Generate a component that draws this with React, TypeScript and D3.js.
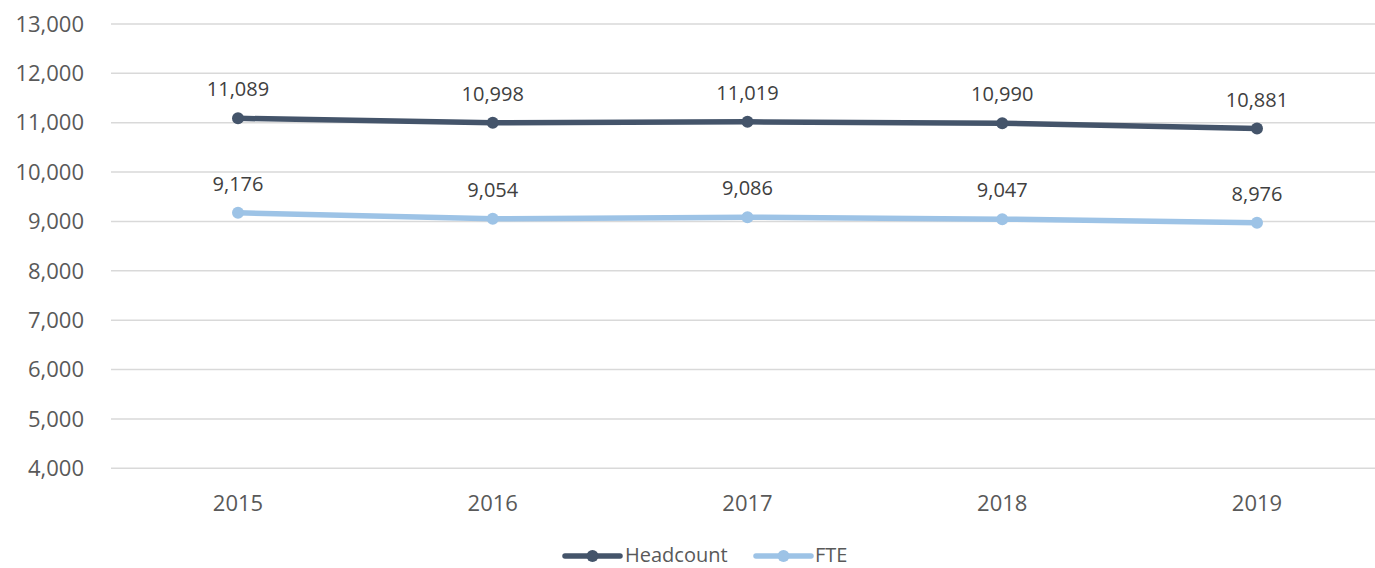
import React, { useEffect, useRef } from 'react';
import * as d3 from 'd3';

const years = ['2015', '2016', '2017', '2018', '2019'];
const headcount = [11089, 10998, 11019, 10990, 10881];
const fte = [9176, 9054, 9086, 9047, 8976];
const yTicks = [4000, 5000, 6000, 7000, 8000, 9000, 10000, 11000, 12000, 13000];

const series = [
  { name: 'Headcount', values: headcount, color: '#44546A' },
  { name: 'FTE', values: fte, color: '#9DC3E6' },
];

const App: React.FC = () => {
  const chartRef = useRef<SVGSVGElement>(null);

  useEffect(() => {
    if (!chartRef.current) return;
    const width = 1375;
    const height = 568;
    const font = '"Open Sans", sans-serif';

    const svg = d3.select(chartRef.current);
    svg.selectAll('*').remove();

    const xScale = d3.scalePoint<string>()
      .domain(years)
      .range([238, 1257]);

    const yScale = d3.scaleLinear()
      .domain([4000, 13000])
      .range([468.3, 24]);

    const fmt = d3.format(',');

    // Grid lines
    svg.selectAll('.grid-line')
      .data(yTicks)
      .enter()
      .append('line')
      .attr('x1', 111)
      .attr('x2', width)
      .attr('y1', d => yScale(d))
      .attr('y2', d => yScale(d))
      .style('stroke', '#d9d9d9')
      .style('stroke-width', 1.5);

    // Y tick labels
    svg.selectAll('.y-label')
      .data(yTicks)
      .enter()
      .append('text')
      .attr('x', 84)
      .attr('y', d => yScale(d))
      .attr('dy', '0.35em')
      .attr('text-anchor', 'end')
      .style('font-family', font)
      .style('font-size', '22px')
      .style('fill', '#595959')
      .text(d => fmt(d));

    // X labels
    svg.selectAll('.x-label')
      .data(years)
      .enter()
      .append('text')
      .attr('x', d => xScale(d) || 0)
      .attr('y', 503)
      .attr('dy', '0.35em')
      .attr('text-anchor', 'middle')
      .style('font-family', font)
      .style('font-size', '22px')
      .style('fill', '#595959')
      .text(d => d);

    const line = d3.line<number>()
      .x((_, i) => xScale(years[i]) || 0)
      .y(d => yScale(d));

    series.forEach(s => {
      svg.append('path')
        .datum(s.values)
        .attr('d', line)
        .attr('fill', 'none')
        .attr('stroke', s.color)
        .attr('stroke-width', 5.5)
        .attr('stroke-linecap', 'round')
        .attr('stroke-linejoin', 'round');

      svg.selectAll(null)
        .data(s.values)
        .enter()
        .append('circle')
        .attr('cx', (_, i) => xScale(years[i]) || 0)
        .attr('cy', d => yScale(d))
        .attr('r', 6)
        .attr('fill', s.color);

      // Data labels
      svg.selectAll(null)
        .data(s.values)
        .enter()
        .append('text')
        .attr('x', (_, i) => xScale(years[i]) || 0)
        .attr('y', d => yScale(d) - 29)
        .attr('dy', '0.35em')
        .attr('text-anchor', 'middle')
        .style('font-family', font)
        .style('font-size', '20px')
        .style('fill', '#404040')
        .text(d => fmt(d));
    });

    // Legend
    const legend = [
      { x: 565, textX: 625 },
      { x: 756, textX: 815 },
    ];
    const ly = 556;
    series.forEach((s, i) => {
      const g = svg.append('g');
      const lx = legend[i].x;
      g.append('line')
        .attr('x1', lx)
        .attr('x2', lx + 55)
        .attr('y1', ly)
        .attr('y2', ly)
        .attr('stroke', s.color)
        .attr('stroke-width', 5.5)
        .attr('stroke-linecap', 'round');
      g.append('circle')
        .attr('cx', lx + 27.5)
        .attr('cy', ly)
        .attr('r', 6)
        .attr('fill', s.color);
      g.append('text')
        .attr('x', legend[i].textX)
        .attr('y', ly - 1)
        .attr('dy', '0.35em')
        .style('font-family', font)
        .style('font-size', '20px')
        .style('fill', '#595959')
        .text(s.name);
    });

    svg.attr('width', width).attr('height', height);
  }, []);

  return (
    <svg
      ref={chartRef}
      width={1375}
      height={568}
      style={{ position: 'absolute', left: 0, top: 0, background: '#fff', display: 'block' }}
    />
  );
};

export default App;
